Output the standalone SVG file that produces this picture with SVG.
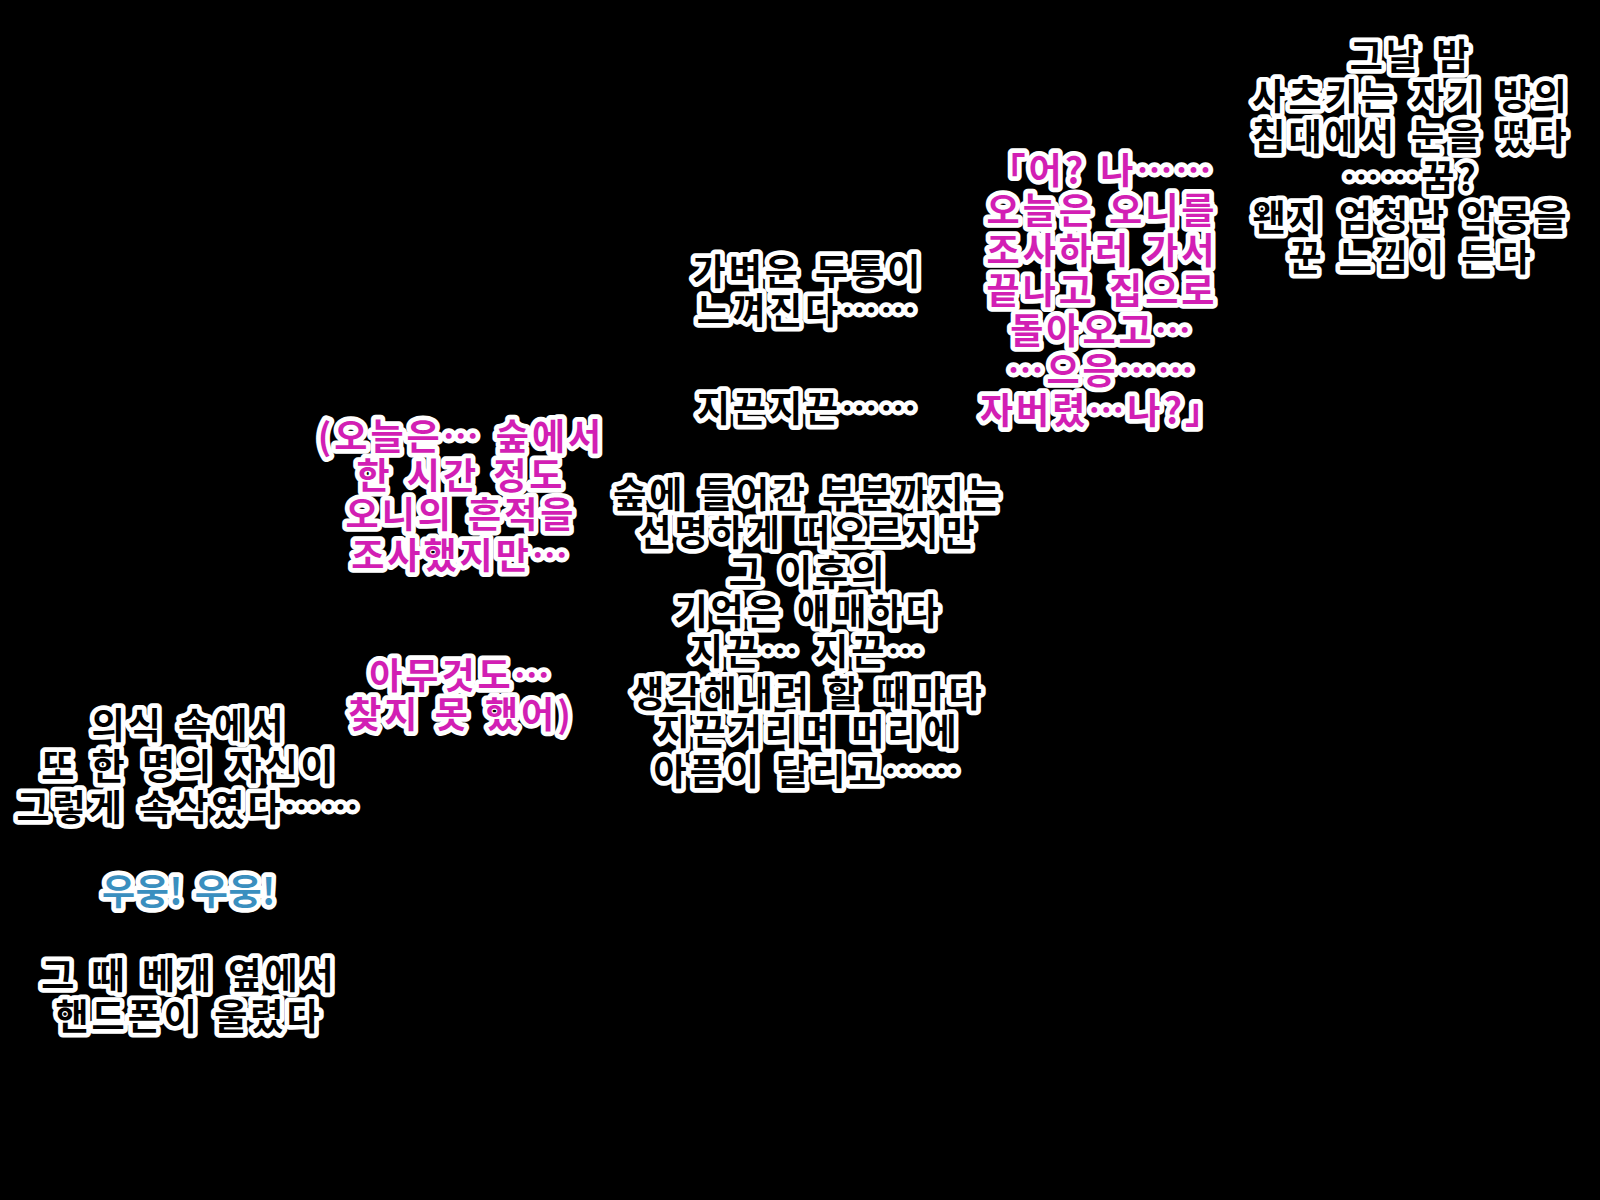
<svg xmlns="http://www.w3.org/2000/svg" width="1600" height="1200" viewBox="0 0 1600 1200">
<style>
.t{font-family:"Noto Sans CJK KR","Noto Sans",sans-serif;font-size:36px;font-weight:700;text-anchor:middle;stroke:#fff;stroke-width:9.5;stroke-linejoin:round;paint-order:stroke;letter-spacing:3px;word-spacing:3px}
.w{fill:#000}
.p{fill:#d21fb4}
.b{fill:#3a8fbf;letter-spacing:0.5px}
</style>
<rect width="1600" height="1200" fill="#000"/>
<g id="night" class="t w">
<text x="1411" y="70">그날 밤</text>
<text x="1411" y="110">사츠키는 자기 방의</text>
<text x="1411" y="150">침대에서 눈을 떴다</text>
<text x="1411" y="191">……꿈?</text>
<text x="1411" y="231">왠지 엄청난 악몽을</text>
<text x="1411" y="271">꾼 느낌이 든다</text>
</g>
<g id="dialogue" class="t p">
<text x="1102" y="184">「어? 나……</text>
<text x="1102" y="224">오늘은 오니를</text>
<text x="1102" y="264">조사하러 가서</text>
<text x="1102" y="304">끝나고 집으로</text>
<text x="1102" y="344">돌아오고…</text>
<text x="1102" y="384">…으응……</text>
<text x="1102" y="424">자버렸…나?」</text>
</g>
<g id="headache" class="t w">
<text x="808" y="285">가벼운 두통이</text>
<text x="808" y="324">느껴진다……</text>
</g>
<g id="throb" class="t w">
<text x="808" y="422">지끈지끈……</text>
</g>
<g id="memory" class="t w">
<text x="808" y="508">숲에 들어간 부분까지는</text>
<text x="808" y="546">선명하게 떠오르지만</text>
<text x="808" y="586">그 이후의</text>
<text x="808" y="625">기억은 애매하다</text>
<text x="808" y="665">지끈… 지끈…</text>
<text x="808" y="707">생각해내려 할 때마다</text>
<text x="808" y="745">지끈거리며 머리에</text>
<text x="808" y="785">아픔이 달리고……</text>
</g>
<g id="thought1" class="t p">
<text x="461" y="450">(오늘은… 숲에서</text>
<text x="461" y="489">한 시간 정도</text>
<text x="461" y="528">오니의 흔적을</text>
<text x="461" y="569">조사했지만…</text>
</g>
<g id="thought2" class="t p">
<text x="461" y="689">아무것도…</text>
<text x="461" y="728">찾지 못 했어)</text>
</g>
<g id="whisper" class="t w">
<text x="189" y="739">의식 속에서</text>
<text x="189" y="780">또 한 명의 자신이</text>
<text x="189" y="821">그렇게 속삭였다……</text>
</g>
<g id="buzz" class="t b">
<text x="189" y="905">우웅! 우웅!</text>
</g>
<g id="phone" class="t w">
<text x="189" y="989">그 때 베개 옆에서</text>
<text x="189" y="1030">핸드폰이 울렸다</text>
</g>
</svg>
